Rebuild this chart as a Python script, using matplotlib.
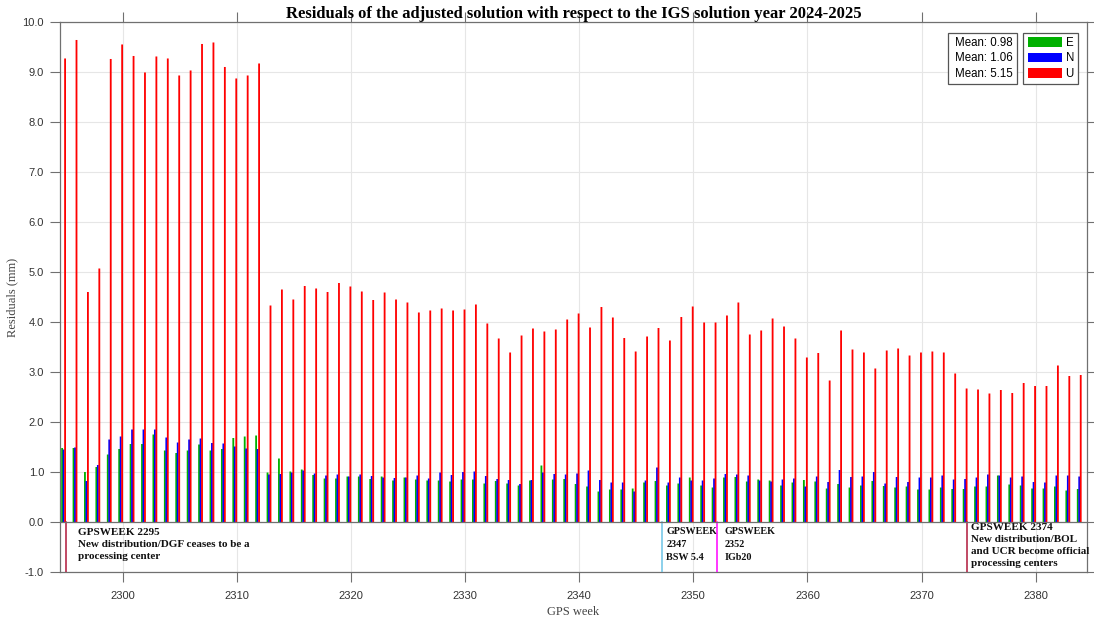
import matplotlib
matplotlib.use('Agg')
import matplotlib.pyplot as plt
from matplotlib.patches import Patch
from matplotlib.lines import Line2D
import numpy as np

weeks = list(range(2295, 2385))

east = [1.48, 1.48, 1.00, 1.10, 1.35, 1.46, 1.56, 1.56, 1.75, 1.43,
        1.38, 1.43, 1.55, 1.43, 1.46, 1.68, 1.71, 1.73, 0.99, 1.27,
        1.01, 1.05, 0.94, 0.87, 0.87, 0.91, 0.91, 0.86, 0.91, 0.83,
        0.89, 0.85, 0.83, 0.83, 0.81, 0.85, 0.85, 0.77, 0.82, 0.77,
        0.73, 0.83, 1.13, 0.85, 0.86, 0.76, 0.71, 0.61, 0.65, 0.65,
        0.67, 0.79, 0.82, 0.73, 0.77, 0.89, 0.73, 0.69, 0.89, 0.90,
        0.81, 0.85, 0.83, 0.73, 0.79, 0.84, 0.81, 0.67, 0.76, 0.69,
        0.73, 0.82, 0.72, 0.69, 0.71, 0.65, 0.65, 0.69, 0.66, 0.66,
        0.71, 0.71, 0.93, 0.75, 0.73, 0.67, 0.67, 0.71, 0.63, 0.66]

north = [1.45, 1.49, 0.82, 1.14, 1.65, 1.71, 1.85, 1.85, 1.85, 1.69,
         1.59, 1.65, 1.67, 1.58, 1.57, 1.51, 1.47, 1.46, 0.95, 0.96,
         0.99, 1.03, 0.97, 0.93, 0.95, 0.91, 0.95, 0.92, 0.89, 0.88,
         0.89, 0.93, 0.87, 0.99, 0.94, 1.00, 1.01, 0.92, 0.86, 0.84,
         0.76, 0.84, 0.99, 0.96, 0.95, 0.97, 1.03, 0.84, 0.79, 0.79,
         0.61, 0.83, 1.09, 0.79, 0.89, 0.83, 0.83, 0.87, 0.96, 0.95,
         0.93, 0.83, 0.81, 0.85, 0.87, 0.71, 0.91, 0.80, 1.04, 0.90,
         0.91, 1.00, 0.77, 0.90, 0.80, 0.89, 0.89, 0.93, 0.85, 0.86,
         0.89, 0.95, 0.93, 0.89, 0.91, 0.80, 0.79, 0.93, 0.93, 0.91]

up = [9.27, 9.64, 4.60, 5.07, 9.26, 9.55, 9.32, 8.99, 9.31, 9.27,
      8.93, 9.03, 9.56, 9.59, 9.10, 8.87, 8.93, 9.17, 4.33, 4.65,
      4.45, 4.72, 4.67, 4.60, 4.78, 4.71, 4.61, 4.44, 4.59, 4.45,
      4.39, 4.19, 4.23, 4.27, 4.23, 4.25, 4.35, 3.97, 3.67, 3.39,
      3.73, 3.87, 3.81, 3.85, 4.05, 4.17, 3.89, 4.30, 4.09, 3.68,
      3.41, 3.71, 3.88, 3.63, 4.10, 4.31, 3.99, 3.99, 4.13, 4.39,
      3.75, 3.83, 4.07, 3.91, 3.67, 3.29, 3.38, 2.83, 3.83, 3.45,
      3.39, 3.07, 3.43, 3.47, 3.33, 3.39, 3.41, 3.39, 2.97, 2.67,
      2.65, 2.57, 2.64, 2.58, 2.78, 2.72, 2.72, 3.13, 2.92, 2.94]

mean_labels = ['Mean: 0.98', 'Mean: 1.06', 'Mean: 5.15']

event_weeks = [2295, 2347.25, 2352.1, 2374]
event_colors = ['#b0173a', '#6cc3e6', '#ff00ff', '#b0173a']
event_texts = ['GPSWEEK 2295\nNew distribution/DGF ceases to be a\nprocessing center',
               'GPSWEEK\n2347\nBSW 5.4',
               'GPSWEEK\n2352\nIGb20',
               'GPSWEEK 2374\nNew distribution/BOL\nand UCR become official\nprocessing centers']
event_text_x = [2296.05, 2347.65, 2352.75, 2374.3]
event_text_y = [-0.12, -0.10, -0.10, -0.01]
event_fs = [8, 7.3, 7.3, 8]

col_e = '#00b000'
col_n = '#0000ff'
col_u = '#ff0000'

fig = plt.figure(figsize=(10.94, 6.19), dpi=100)
ax = fig.add_axes([0.0548, 0.0759, 0.9388, 0.8886])

w = np.array(weeks)
bw = 0.16
ax.bar(w - 0.31, east, bw, color=col_e, linewidth=0, snap=False, zorder=3)
ax.bar(w - 0.18, north, bw, color=col_n, linewidth=0, snap=False, zorder=3)
ax.bar(w - 0.05, up, bw, color=col_u, linewidth=0, snap=False, zorder=3)

for x, c, t, tx, ty, fs in zip(event_weeks, event_colors, event_texts, event_text_x, event_text_y, event_fs):
    ax.plot([x, x], [0, -1], color=c, lw=1.1, zorder=4)
    ax.text(tx, ty, t, va='top', ha='left', fontsize=fs, fontweight='bold',
            family='Liberation Serif', linespacing=1.45 * 8 / fs, color='#111111')

ax.axhline(0, color='#707070', lw=0.9, zorder=4)

ax.set_xlim(2294.5, 2384.5)
ax.set_ylim(-1, 10)
ax.set_xticks(range(2300, 2381, 10))
ax.set_yticks(np.arange(-1, 10.5, 1))
ax.set_yticklabels(['%.1f' % v for v in np.arange(-1, 10.5, 1)])
ax.grid(True, color='#e6e6e6', lw=0.8, zorder=0)
ax.set_axisbelow(True)
ax.tick_params(direction='out', length=7.5, width=0.8, color='#707070', pad=4,
               labelsize=8, labelcolor='#333333', top=True, right=True,
               labeltop=False, labelright=False)
ax.tick_params(axis='x', pad=6)
for lab in ax.get_xticklabels() + ax.get_yticklabels():
    lab.set_family('Liberation Sans')
for s in ax.spines.values():
    s.set_color('#707070')
    s.set_linewidth(0.9)

ax.set_title('Residuals of the adjusted solution with respect to the IGS solution year 2024-2025',
             fontsize=12, fontweight='bold', family='Liberation Serif', pad=3)
ax.set_xlabel('GPS week', fontsize=9, family='Liberation Serif', color='#444444', labelpad=4)
ax.set_ylabel('Residuals (mm)', fontsize=9, family='Liberation Serif', color='#444444', labelpad=3)

handles = [Patch(facecolor=col_e), Patch(facecolor=col_n), Patch(facecolor=col_u)]
leg1 = ax.legend(handles, ['E', 'N', 'U'], loc='upper right', bbox_to_anchor=(0.9912, 0.98),
                 borderaxespad=0, handlelength=3.0, handleheight=0.9, handletextpad=0.3,
                 labelspacing=0.3, borderpad=0.35, fancybox=False, framealpha=1,
                 edgecolor='#555555', prop={'family': 'Liberation Sans', 'size': 8.3})
leg1.get_frame().set_linewidth(0.9)
ax.add_artist(leg1)

blank = [Line2D([], [], linestyle='none') for _ in mean_labels]
leg2 = ax.legend(blank, mean_labels, loc='upper right', bbox_to_anchor=(0.9320, 0.98),
                 borderaxespad=0, handlelength=0.3, handletextpad=0, labelspacing=0.3,
                 borderpad=0.35, fancybox=False, framealpha=1, edgecolor='#555555',
                 prop={'family': 'Liberation Sans', 'size': 8.3})
leg2.get_frame().set_linewidth(0.9)

fig.savefig('out.png', dpi=100)
